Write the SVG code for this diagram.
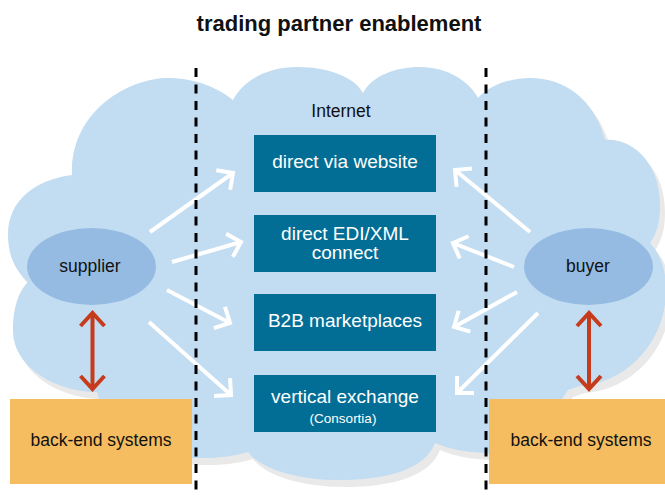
<svg xmlns="http://www.w3.org/2000/svg" width="665" height="496" viewBox="0 0 665 496">
  <style>
    .txt { font-family: "Liberation Sans", Arial, sans-serif; }
    .title { font-size: 22px; font-weight: bold; fill: #111; }
    .label { font-size: 17.5px; fill: #111; }
    .boxlabel { font-size: 19px; fill: #ffffff; }
    .small { font-size: 13.5px; fill: #ffffff; }
    .channel { fill: #036e95; }
    .party { fill: #95bbe3; }
    .backend { fill: #f5bd60; }
    .flow { stroke: #ffffff; stroke-width: 4; fill: none; marker-end: url(#whiteHead); }
    .link { stroke: #c63b1c; stroke-width: 4; fill: none; marker-start: url(#redHead); marker-end: url(#redHead); }
    .divider { stroke: #000; stroke-width: 3; stroke-dasharray: 9 7.5; }
  </style>
  <defs>
    <marker id="whiteHead" markerUnits="userSpaceOnUse" viewBox="-16 -16 20 32" markerWidth="20" markerHeight="32" refX="0" refY="0" orient="auto" overflow="visible">
      <path d="M-12,-12 L0,0 L-12,12" fill="none" stroke="#ffffff" stroke-width="4"/>
    </marker>
    <marker id="redHead" markerUnits="userSpaceOnUse" viewBox="-16 -16 20 32" markerWidth="20" markerHeight="32" refX="0" refY="0" orient="auto-start-reverse" overflow="visible">
      <path d="M-13,-12 L0,0 L-13,12" fill="none" stroke="#c63b1c" stroke-width="4"/>
    </marker>
    <path id="cloudShape" d="M72,175 C70,110 130,78 168,78 C195,78 218,88 233,100 C245,78 270,67 297,67 C330,67 355,78 363,93 C372,76 395,67 420,67 C448,67 470,82 478,98 C490,85 510,78 530,78 C565,78 595,100 605,140 C630,138 660,160 660,205 C660,222 657,233 650,243 C662,255 667,275 666,295 C663,345 625,383 580,386 L568,390 L560,402 C548,440 520,455 485,453 Q455,452 435,443 C425,470 385,480 340,480 C295,480 260,468 248,452 C230,458 200,460 170,456 L110,430 L97,392 C60,392 13,370 13,330 C13,305 20,290 28,282 C12,268 8,250 8,235 C8,200 35,180 72,175 Z"/>
  </defs>

  <rect width="665" height="496" fill="#ffffff"/>

  <!-- title -->
  <text class="txt title" x="339" y="31" text-anchor="middle">trading partner enablement</text>

  <!-- internet cloud with soft drop shadow -->
  <g id="cloud">
    <use href="#cloudShape" fill="#e9e9e9" transform="translate(5,7)"/>
    <use href="#cloudShape" fill="#c2ddf2"/>
    <text class="txt label" x="341" y="117" text-anchor="middle">Internet</text>
  </g>

  <!-- connectors -->
  <g id="connectors">
    <line class="flow" x1="150" y1="232" x2="233" y2="173"/>
    <line class="flow" x1="172" y1="262" x2="241" y2="242"/>
    <line class="flow" x1="167" y1="290" x2="230" y2="323"/>
    <line class="flow" x1="149" y1="322" x2="231" y2="395"/>
    <line class="flow" x1="530" y1="232" x2="455" y2="170"/>
    <line class="flow" x1="514" y1="267" x2="453" y2="243"/>
    <line class="flow" x1="517" y1="292" x2="454" y2="327"/>
    <line class="flow" x1="538" y1="313" x2="457" y2="393"/>
    <line class="link" x1="92.5" y1="313" x2="92.5" y2="389"/>
    <line class="link" x1="589" y1="313" x2="589" y2="389"/>
  </g>

  <!-- channels -->
  <g id="website">
    <rect class="channel" x="254" y="135" width="182" height="57"/>
    <text class="txt boxlabel" x="345" y="168" text-anchor="middle">direct via website</text>
  </g>
  <g id="edi-xml">
    <rect class="channel" x="254" y="215" width="182" height="57"/>
    <text class="txt boxlabel" x="345" y="240" text-anchor="middle">direct EDI/XML</text>
    <text class="txt boxlabel" x="345" y="259" text-anchor="middle">connect</text>
  </g>
  <g id="marketplaces">
    <rect class="channel" x="254" y="294" width="182" height="57"/>
    <text class="txt boxlabel" x="345" y="327" text-anchor="middle">B2B marketplaces</text>
  </g>
  <g id="vertical-exchange">
    <rect class="channel" x="254" y="375" width="182" height="57"/>
    <text class="txt boxlabel" x="345" y="403" text-anchor="middle">vertical exchange</text>
    <text class="txt small" x="343" y="423" text-anchor="middle">(Consortia)</text>
  </g>

  <!-- parties -->
  <g id="supplier">
    <ellipse class="party" cx="91.5" cy="266.5" rx="64.5" ry="38.5"/>
    <text class="txt label" x="90" y="272" text-anchor="middle">supplier</text>
  </g>
  <g id="buyer">
    <ellipse class="party" cx="588.5" cy="266.5" rx="64.5" ry="38.5"/>
    <text class="txt label" x="588" y="272" text-anchor="middle">buyer</text>
  </g>

  <!-- back-end systems -->
  <g id="supplier-backend">
    <rect class="backend" x="10" y="399" width="182" height="85"/>
    <text class="txt label" x="101" y="446" text-anchor="middle">back-end systems</text>
  </g>
  <g id="buyer-backend">
    <rect class="backend" x="489" y="399" width="176" height="85"/>
    <text class="txt label" x="581" y="446" text-anchor="middle">back-end systems</text>
  </g>

  <!-- boundary lines -->
  <g id="boundaries">
    <line class="divider" x1="196" y1="68" x2="196" y2="496"/>
    <line class="divider" x1="486" y1="68" x2="486" y2="496"/>
  </g>
</svg>
